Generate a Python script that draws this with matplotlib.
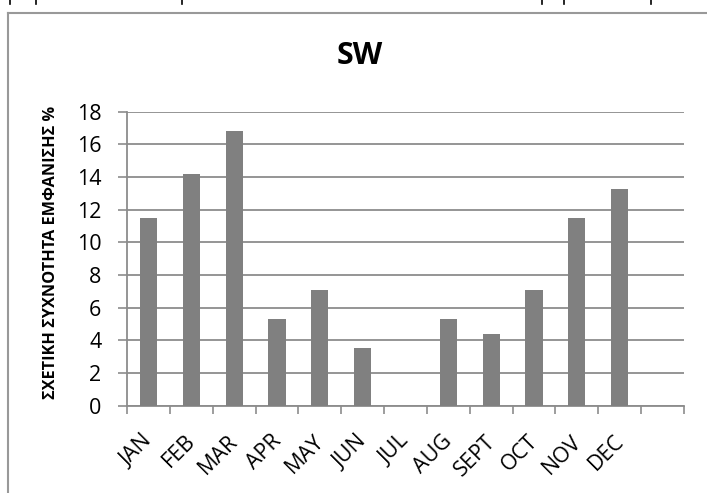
import matplotlib

matplotlib.use("Agg")
import matplotlib.pyplot as plt
import numpy as np
from matplotlib.lines import Line2D

# relative frequency of SW winds per month (%)
months = ["JAN", "FEB", "MAR", "APR", "MAY", "JUN", "JUL", "AUG", "SEPT", "OCT", "NOV", "DEC"]
freq = [11.50, 14.16, 16.81, 5.31, 7.08, 3.54, 0.0, 5.31, 4.42, 7.08, 11.50, 13.27]
y_ticks = [0, 2, 4, 6, 8, 10, 12, 14, 16, 18]
n_slots = 13  # one empty category after DEC

plt.rcParams["font.family"] = ["Open Sans", "DejaVu Sans"]

W, H = 707, 493
fig = plt.figure(figsize=(W / 100, H / 100), dpi=100)
ax = fig.add_axes([127 / W, (H - 405.7) / H, (684 - 127) / W, (405.7 - 111.7) / H])

x = np.arange(len(months))
ax.bar(x, freq, width=0.4, color="#808080", zorder=3)

ax.set_xlim(-0.5, n_slots - 0.5)
ax.set_ylim(0, 18)
ax.set_yticks(y_ticks)
ax.set_yticklabels([str(v) for v in y_ticks], fontsize=15.5)
ax.yaxis.grid(True, color="#8c8c8c", linewidth=1.3, zorder=0)

ax.set_xticks(np.arange(n_slots + 1) - 0.5)
ax.set_xticklabels([])
ax.tick_params(axis="x", length=6, width=1.2, color="#8c8c8c", direction="out")
ax.tick_params(axis="y", length=6.5, width=1.2, color="#8c8c8c", direction="out", pad=12)
for i, m in enumerate(months):
    ax.text(i - 0.15, -1.55, m, rotation=45, ha="right", va="top",
            rotation_mode="anchor", fontsize=15.5, clip_on=False)

for side in ["top", "right"]:
    ax.spines[side].set_visible(False)
for side in ["left", "bottom"]:
    ax.spines[side].set_color("#8c8c8c")
    ax.spines[side].set_linewidth(1.3)

ax.set_ylabel("ΣΧΕΤΙΚΗ ΣΥΧΝΟΤΗΤΑ ΕΜΦΑΝΙΣΗΣ %", fontsize=11.7, fontweight="bold")
ax.yaxis.set_label_coords(-0.122, 0.52)
fig.text(359.5 / W, 1 - 56 / H, "SW", ha="center", va="center", fontsize=22, fontweight="bold")

# chart frame (left and top edges)
fig.add_artist(Line2D([8 / W, 8 / W], [0, 1 - 12.5 / H], transform=fig.transFigure,
                      color="#999999", linewidth=1.5))
fig.add_artist(Line2D([8 / W, 1], [1 - 12.5 / H, 1 - 12.5 / H], transform=fig.transFigure,
                      color="#999999", linewidth=1.5))
# small marks along the upper edge
for px in [10, 36, 182, 542, 564, 651]:
    fig.add_artist(Line2D([px / W, px / W], [1, 1 - 4 / H], transform=fig.transFigure,
                          color="black", linewidth=1.2))

fig.savefig("out.png", dpi=100)
